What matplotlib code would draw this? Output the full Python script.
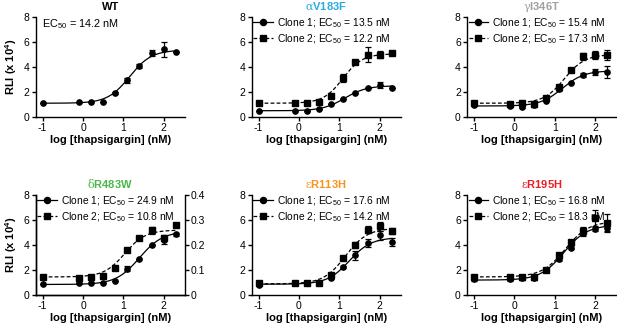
import numpy as np
import matplotlib
matplotlib.use("Agg")
import matplotlib.pyplot as plt

plt.rcParams.update({
    "font.family": "Liberation Sans", "font.size": 7.5,
    "mathtext.fontset": "custom", "mathtext.rm": "Liberation Sans",
    "mathtext.bf": "Liberation Sans:bold", "mathtext.sf": "DejaVu Serif",
    "axes.unicode_minus": False,
    "axes.linewidth": 1.0, "xtick.major.width": 1.0, "ytick.major.width": 1.0,
    "xtick.major.size": 3, "ytick.major.size": 3,
})

# log [thapsigargin] (nM) of the dilution series
LOG_CONC = [-1.0, -0.107, 0.193, 0.494, 0.796, 1.097, 1.398, 1.699, 2.0, 2.301]

# mean RLI (x 10^4) and error per clone
WT = [1.08, 1.16, 1.16, 1.19, 1.91, 2.94, 4.10, 5.10, 5.40, 5.23]
WT_ERR = [0, 0, 0, 0, 0.05, 0.2, 0.15, 0.25, 0.6, 0]
AV_C1 = [0.46, 0.51, 0.51, 0.60, 1.00, 1.40, 1.94, 2.34, 2.56, 2.34]
AV_C1_ERR = [0, 0, 0, 0, 0, 0, 0, 0, 0.25, 0]
AV_C2 = [1.08, 1.10, 1.10, 1.19, 1.67, 3.13, 4.42, 4.99, 4.99, 5.12]
AV_C2_ERR = [0, 0, 0, 0, 0, 0.3, 0.1, 0.6, 0.3, 0.15]
GI_C1 = [0.92, 0.86, 0.81, 0.92, 1.27, 2.20, 2.70, 3.34, 3.61, 3.61]
GI_C1_ERR = [0, 0.1, 0.1, 0.1, 0, 0.1, 0, 0.15, 0.25, 0.5]
GI_C2 = [1.13, 1.05, 1.13, 1.05, 1.54, 2.43, 3.77, 4.85, 4.96, 4.96]
GI_C2_ERR = [0.15, 0, 0, 0, 0, 0, 0.1, 0.3, 0.35, 0.4]
DR_C1 = [0.85, 1.00, 0.93, 0.93, 1.14, 2.12, 2.91, 3.97, 4.40, 4.85]
DR_C1_ERR = [0, 0, 0, 0, 0, 0.2, 0, 0, 0.3, 0.15]
DR_C2 = [1.46, 1.40, 1.46, 1.54, 2.20, 3.63, 4.56, 5.17, 4.60, 5.60]
DR_C2_ERR = [0, 0, 0, 0, 0, 0, 0, 0.3, 0.2, 0]
ER1_C1 = [0.80, 0.93, 0.93, 0.93, 1.40, 2.25, 3.18, 4.16, 4.77, 4.24]
ER1_C1_ERR = [0.1, 0, 0, 0, 0.1, 0.1, 0.35, 0.3, 0.35, 0.3]
ER1_C2 = [1.00, 0.93, 0.93, 1.00, 1.60, 2.97, 4.03, 5.24, 5.50, 5.10]
ER1_C2_ERR = [0.1, 0, 0, 0, 0.1, 0.1, 0.25, 0.3, 0.35, 0.25]
ER2_C1 = [1.25, 1.25, 1.33, 1.33, 1.99, 2.90, 3.80, 5.10, 5.30, 5.40]
ER2_C1_ERR = [0.1, 0.1, 0.1, 0.1, 0.1, 0.2, 0.15, 0.35, 0.2, 0.3]
ER2_C2 = [1.46, 1.46, 1.46, 1.46, 1.99, 3.18, 4.24, 5.10, 6.13, 5.75]
ER2_C2_ERR = [0.1, 0.1, 0.1, 0.1, 0.1, 0.2, 0.15, 0.3, 0.7, 0.7]

# four-parameter logistic fits: bottom, top, EC50 (nM), Hill slope
FIT_BOTTOM = {"WT": [1.1], "AV": [0.5, 1.1], "GI": [0.88, 1.1], "DR": [0.85, 1.45],
              "ER1": [0.87, 0.9], "ER2": [1.2, 1.45]}
FIT_TOP = {"WT": [5.35], "AV": [2.5, 5.05], "GI": [3.7, 5.0], "DR": [5.1, 5.2],
           "ER1": [4.6, 5.35], "ER2": [5.6, 5.9]}
EC50 = {"WT": [14.2], "AV": [13.5, 12.2], "GI": [15.4, 17.3], "DR": [24.9, 10.8],
        "ER1": [17.6, 14.2], "ER2": [16.8, 18.3]}
HILL = {"WT": [1.6], "AV": [1.6, 1.8], "GI": [1.6, 1.7], "DR": [1.5, 1.7],
        "ER1": [1.6, 1.6], "ER2": [1.5, 1.5]}

TITLES = {"WT": "WT", "AV": r"$\mathsf{\alpha}$V183F", "GI": r"$\mathsf{\gamma}$I346T",
          "DR": r"$\mathsf{\delta}$R483W", "ER1": r"$\mathsf{\epsilon}$R113H",
          "ER2": r"$\mathsf{\epsilon}$R195H"}
TITLE_COLOR = {"WT": "black", "AV": "#29abe2", "GI": "#a0a0a0", "DR": "#4bb748",
               "ER1": "#f7941d", "ER2": "#ed1c24"}
DATA = {"WT": [(WT, WT_ERR)], "AV": [(AV_C1, AV_C1_ERR), (AV_C2, AV_C2_ERR)],
        "GI": [(GI_C1, GI_C1_ERR), (GI_C2, GI_C2_ERR)],
        "DR": [(DR_C1, DR_C1_ERR), (DR_C2, DR_C2_ERR)],
        "ER1": [(ER1_C1, ER1_C1_ERR), (ER1_C2, ER1_C2_ERR)],
        "ER2": [(ER2_C1, ER2_C1_ERR), (ER2_C2, ER2_C2_ERR)]}
ORDER = ["WT", "AV", "GI", "DR", "ER1", "ER2"]


def logistic(x, bottom, top, ec50, hill):
    return bottom + (top - bottom) / (1 + 10 ** ((np.log10(ec50) - x) * hill))


fig = plt.figure(figsize=(6.17, 3.25), dpi=100)
lefts = [0.058, 0.408, 0.757]
bottoms = [0.64, 0.092]
w, h = 0.2415, 0.308
xs = np.array(LOG_CONC)
xf = np.linspace(LOG_CONC[0], LOG_CONC[-1], 200)
styles = [dict(marker="o", ms=3.8, ls="-"), dict(marker="s", ms=4.0, ls=(0, (3, 1.8)))]

for i, key in enumerate(ORDER):
    ax = fig.add_axes([lefts[i % 3], bottoms[i // 3], w, h])
    for j, (y, err) in enumerate(DATA[key]):
        st = styles[j]
        ax.errorbar(xs, y, yerr=err, fmt=st["marker"], ms=st["ms"], color="black",
                    ecolor="black", elinewidth=0.9, capsize=2.2, capthick=0.9, zorder=3)
        yf = logistic(xf, FIT_BOTTOM[key][j], FIT_TOP[key][j], EC50[key][j], HILL[key][j])
        ax.plot(xf, yf, color="black", lw=0.9, ls=st["ls"])
        if key != "WT":
            ax.plot([], [], color="black", lw=0.9, ls=st["ls"], marker=st["marker"],
                    ms=st["ms"] + 0.6,
                    label=f"Clone {j + 1}; EC$_{{50}}$ = {EC50[key][j]} nM")
    ax.set_xlim(-1.17, 2.52)
    ax.set_ylim(0, 8)
    ax.set_xticks([-1, 0, 1, 2])
    ax.set_yticks([0, 2, 4, 6, 8])
    ax.spines[["top", "right"]].set_visible(False)
    ax.tick_params(labelsize=7.5, pad=1.5)
    ax.set_xlabel("log [thapsigargin] (nM)", fontsize=8, fontweight="bold", labelpad=1)
    ax.set_title(TITLES[key], fontsize=8, fontweight="bold", color=TITLE_COLOR[key], pad=5)
    if i % 3 == 0:
        ax.set_ylabel(r"RLI (x 10$^{\mathbf{4}}$)", fontsize=8, fontweight="bold", labelpad=3)
    if key == "WT":
        ax.text(0.045, 0.93, f"EC$_{{50}}$ = {EC50[key][0]} nM", transform=ax.transAxes,
                fontsize=7.8, va="center")
    else:
        ax.legend(loc="upper left", bbox_to_anchor=(-0.01, 1.04), frameon=False, fontsize=7.4,
                  handlelength=1.9, handletextpad=0.4, labelspacing=0.25, borderpad=0.2,
                  borderaxespad=0.1)
    if key == "DR":
        ax2 = ax.twinx()
        ax2.set_ylim(0, 0.4)
        ax2.set_yticks([0, 0.1, 0.2, 0.3, 0.4])
        ax2.set_yticklabels(["0", "0.1", "0.2", "0.3", "0.4"])
        ax2.spines["top"].set_visible(False)
        ax2.tick_params(labelsize=7.5, pad=1.5)

fig.savefig("out.png", dpi=100)
